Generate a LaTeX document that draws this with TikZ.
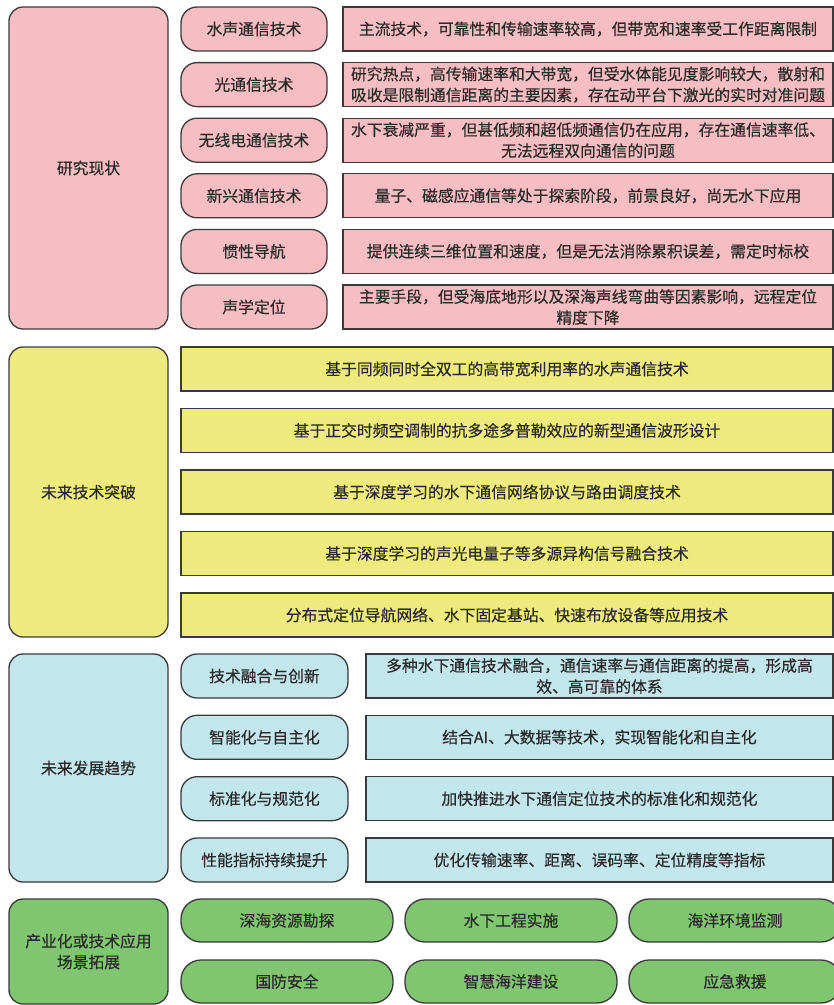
\documentclass[tikz,border=0pt]{standalone}
\usepackage{fontspec}
\setmainfont{Noto Sans CJK SC}[FakeBold=0.4]
\definecolor{pinkc}{HTML}{F6BEC2}
\definecolor{yellowc}{HTML}{EEEA7E}
\definecolor{bluec}{HTML}{C2E6EB}
\definecolor{greenc}{HTML}{80C56F}
\definecolor{linec}{HTML}{3A3A3A}
\definecolor{textc}{HTML}{2A2A2A}
\tikzset{
  base/.style={draw=linec, line width=1.3pt, inner sep=0pt, align=center, text=textc,
    font=\fontsize{15.8pt}{21pt}\selectfont},
  bigbox/.style={base, rounded corners=14pt},
  pillbox/.style={base, rounded corners=16pt},
  roundpill/.style={base, rounded corners=20pt},
  rectbox/.style={base},
}
\begin{document}
\begin{tikzpicture}[x=1pt,y=-1pt]
\clip (0,0) rectangle (834,1005);
\fill[white] (0,0) rectangle (834,1005);
% ---------- Section 1
\node[bigbox, fill=pinkc, minimum width=159pt, minimum height=322pt] (s1) at (88.5,168) {研究现状};
\node[pillbox, fill=pinkc, minimum width=146pt, minimum height=44pt] (p11) at (254,29) {水声通信技术};
\node[pillbox, fill=pinkc, minimum width=146pt, minimum height=44pt] (p12) at (254,84.6) {光通信技术};
\node[pillbox, fill=pinkc, minimum width=146pt, minimum height=44pt] (p13) at (254,140.2) {无线电通信技术};
\node[pillbox, fill=pinkc, minimum width=146pt, minimum height=44pt] (p14) at (254,195.8) {新兴通信技术};
\node[pillbox, fill=pinkc, minimum width=146pt, minimum height=44pt] (p15) at (254,251.4) {惯性导航};
\node[pillbox, fill=pinkc, minimum width=146pt, minimum height=44pt] (p16) at (254,307) {声学定位};
\node[rectbox, fill=pinkc, minimum width=490pt, minimum height=44pt] (r11) at (588,29) {主流技术，可靠性和传输速率较高，但带宽和速率受工作距离限制};
\node[rectbox, fill=pinkc, minimum width=490pt, minimum height=44pt] (r12) at (588,84.6) {研究热点，高传输速率和大带宽，但受水体能见度影响较大，散射和\\吸收是限制通信距离的主要因素，存在动平台下激光的实时对准问题};
\node[rectbox, fill=pinkc, minimum width=490pt, minimum height=44pt] (r13) at (588,140.2) {水下衰减严重，但甚低频和超低频通信仍在应用，存在通信速率低、\\无法远程双向通信的问题};
\node[rectbox, fill=pinkc, minimum width=490pt, minimum height=44pt] (r14) at (588,195.8) {量子、磁感应通信等处于探索阶段，前景良好，尚无水下应用};
\node[rectbox, fill=pinkc, minimum width=490pt, minimum height=44pt] (r15) at (588,251.4) {提供连续三维位置和速度，但是无法消除累积误差，需定时标校};
\node[rectbox, fill=pinkc, minimum width=490pt, minimum height=44pt] (r16) at (588,307) {主要手段，但受海底地形以及深海声线弯曲等因素影响，远程定位\\精度下降};
% ---------- Section 2
\node[bigbox, fill=yellowc, minimum width=159pt, minimum height=290pt] (s2) at (88.5,492) {未来技术突破};
\node[rectbox, fill=yellowc, minimum width=652pt, minimum height=44pt] (r21) at (507,369) {基于同频同时全双工的高带宽利用率的水声通信技术};
\node[rectbox, fill=yellowc, minimum width=652pt, minimum height=44pt] (r22) at (507,430.5) {基于正交时频空调制的抗多途多普勒效应的新型通信波形设计};
\node[rectbox, fill=yellowc, minimum width=652pt, minimum height=44pt] (r23) at (507,492) {基于深度学习的水下通信网络协议与路由调度技术};
\node[rectbox, fill=yellowc, minimum width=652pt, minimum height=44pt] (r24) at (507,553.5) {基于深度学习的声光电量子等多源异构信号融合技术};
\node[rectbox, fill=yellowc, minimum width=652pt, minimum height=44pt] (r25) at (507,615) {分布式定位导航网络、水下固定基站、快速布放设备等应用技术};
% ---------- Section 3
\node[bigbox, fill=bluec, minimum width=159pt, minimum height=228pt] (s3) at (88.5,768) {未来发展趋势};
\node[pillbox, fill=bluec, minimum width=167pt, minimum height=44pt] (p31) at (264.5,676) {技术融合与创新};
\node[pillbox, fill=bluec, minimum width=167pt, minimum height=44pt] (p32) at (264.5,737.3) {智能化与自主化};
\node[pillbox, fill=bluec, minimum width=167pt, minimum height=44pt] (p33) at (264.5,798.7) {标准化与规范化};
\node[pillbox, fill=bluec, minimum width=167pt, minimum height=44pt] (p34) at (264.5,860) {性能指标持续提升};
\node[rectbox, fill=bluec, minimum width=467pt, minimum height=44pt] (r31) at (599.5,676) {多种水下通信技术融合，通信速率与通信距离的提高，形成高\\效、高可靠的体系};
\node[rectbox, fill=bluec, minimum width=467pt, minimum height=44pt] (r32) at (599.5,737.3) {结合AI、大数据等技术，实现智能化和自主化};
\node[rectbox, fill=bluec, minimum width=467pt, minimum height=44pt] (r33) at (599.5,798.7) {加快推进水下通信定位技术的标准化和规范化};
\node[rectbox, fill=bluec, minimum width=467pt, minimum height=44pt] (r34) at (599.5,860) {优化传输速率、距离、误码率、定位精度等指标};
% ---------- Section 4
\node[bigbox, fill=greenc, minimum width=159pt, minimum height=105pt] (s4) at (88.5,951.5) {产业化或技术应用\\场景拓展};
\node[roundpill, fill=greenc, minimum width=212pt, minimum height=43pt] (g1) at (287,920.5) {深海资源勘探};
\node[roundpill, fill=greenc, minimum width=212pt, minimum height=43pt] (g2) at (511,920.5) {水下工程实施};
\node[roundpill, fill=greenc, minimum width=212pt, minimum height=43pt] (g3) at (735,920.5) {海洋环境监测};
\node[roundpill, fill=greenc, minimum width=212pt, minimum height=43pt] (g4) at (287,981.5) {国防安全};
\node[roundpill, fill=greenc, minimum width=212pt, minimum height=43pt] (g5) at (511,981.5) {智慧海洋建设};
\node[roundpill, fill=greenc, minimum width=212pt, minimum height=43pt] (g6) at (735,981.5) {应急救援};
\end{tikzpicture}
\end{document}
